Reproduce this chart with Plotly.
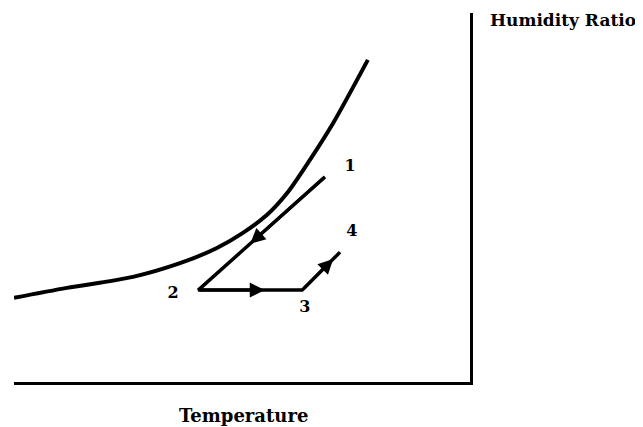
import plotly.graph_objects as go

# Saturation curve (temperature, humidity ratio) in relative units 0-100
sat_temp = [0, 11.6, 26.1, 36.4, 44.5, 50.2, 55.5, 59.9, 64.9, 70.0, 77.6]
sat_hum = [22.8, 25.5, 28.5, 32.2, 36.3, 40.4, 45.3, 51.2, 60.2, 70.2, 87.3]

# Process states 1 -> 2 -> 3 -> 4
state_labels = ["1", "2", "3", "4"]
state_temp = [68.2, 40.4, 63.2, 71.5]
state_hum = [55.6, 24.9, 24.9, 35.2]

# label positions (offset from the states)
label_temp = [73.7, 34.9, 63.8, 74.1]
label_hum = [58.3, 23.8, 20.1, 40.7]

# arrowhead positions along each leg (fraction of the leg)
arrow_frac = [0.59, 0.64, 0.82]

x_title = "Temperature"
y_title = "Humidity Ratio"

font_family = "DejaVu Serif"
ink = "#000000"

fig = go.Figure()
fig.add_trace(go.Scatter(x=sat_temp, y=sat_hum, mode="lines",
                         line=dict(color=ink, width=4, shape="spline", smoothing=0.8),
                         hoverinfo="skip", cliponaxis=False))
fig.add_trace(go.Scatter(x=state_temp, y=state_hum, mode="lines",
                         line=dict(color=ink, width=3.5),
                         hoverinfo="skip", cliponaxis=False))
fig.add_trace(go.Scatter(x=label_temp, y=label_hum, mode="text",
                         text=["<b>" + s + "</b>" for s in state_labels],
                         textfont=dict(family=font_family, size=16, color=ink),
                         hoverinfo="skip", cliponaxis=False))

annotations = []
for i, f in enumerate(arrow_frac):
    x0, y0 = state_temp[i], state_hum[i]
    x1, y1 = state_temp[i + 1], state_hum[i + 1]
    tx, ty = x0 + (x1 - x0) * f, y0 + (y1 - y0) * f
    annotations.append(dict(x=tx, y=ty, ax=x0, ay=y0, xref="x", yref="y",
                            axref="x", ayref="y", showarrow=True, text="",
                            arrowhead=2, arrowsize=1.0, arrowwidth=3, arrowcolor=ink))

annotations.append(dict(text="<b>" + y_title + "</b>", x=1, y=1, xref="paper", yref="paper",
                        xanchor="left", yanchor="middle", xshift=18, yshift=-7, showarrow=False,
                        font=dict(family=font_family, size=17, color=ink)))
annotations.append(dict(text="<b>" + x_title + "</b>", x=0.504, y=0, xref="paper", yref="paper",
                        xanchor="center", yanchor="middle", yshift=-33, showarrow=False,
                        font=dict(family=font_family, size=18, color=ink)))

# page body has an 8px default margin, so the figure is made 8px smaller
fig.update_layout(
    width=635, height=419,
    margin=dict(l=6, r=173, t=5, b=45),
    paper_bgcolor="white", plot_bgcolor="white",
    showlegend=False,
    annotations=annotations,
    xaxis=dict(range=[0, 100], showgrid=False, zeroline=False, showticklabels=False,
               ticks="", showline=True, linecolor=ink, linewidth=3, mirror=False),
    yaxis=dict(range=[0, 100], showgrid=False, zeroline=False, showticklabels=False,
               ticks="", side="right", showline=True, linecolor=ink, linewidth=3),
)

fig.write_html("out.html")
